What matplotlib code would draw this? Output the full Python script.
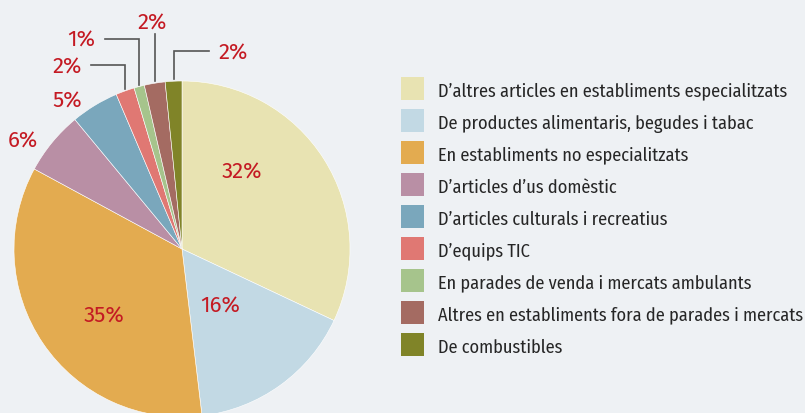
#! /usr/bin/env python3
# -*- coding: utf-8 -*-
"""Pie chart: distribucio del comerc al detall per tipus d'establiment."""
import numpy as np
import matplotlib
matplotlib.use("Agg")
import matplotlib.pyplot as plt
from matplotlib.patches import Rectangle

# Data
categories = [
    "D\u2019altres articles en establiments especialitzats",
    "De productes alimentaris, begudes i tabac",
    "En establiments no especialitzats",
    "D\u2019articles d\u2019us dom\u00e8stic",
    "D\u2019articles culturals i recreatius",
    "D\u2019equips TIC",
    "En parades de venda i mercats ambulants",
    "Altres en establiments fora de parades i mercats",
    "De combustibles",
]
shares = [32.0, 16.1, 34.8, 6.1, 4.6, 1.8, 1.0, 2.0, 1.6]
colors = ["#E8E3B2", "#C2D9E4", "#E3AB50", "#B98FA5", "#7AA7BC",
          "#E07873", "#A6C48C", "#A46B62", "#808428"]

BG = "#EEF1F4"
RED = "#C41A23"
LINE = "#555555"
W, H = 805, 414
FONT = ["Fira Sans Condensed", "DejaVu Sans"]
PCT_FONT = ["Fira Sans", "DejaVu Sans"]
PCT_SIZE = 16

plt.rcParams["font.family"] = FONT

fig = plt.figure(figsize=(W / 100, H / 100), dpi=100, facecolor=BG)
ax = fig.add_axes([0, 0, 1, 1])
ax.set_facecolor(BG)

cx, cy, r = 182, H - 250, 168
wedges, _ = ax.pie(shares, colors=colors, startangle=90, counterclock=False,
                   center=(cx, cy), radius=r, frame=True,
                   wedgeprops=dict(linewidth=0.4, edgecolor="white"))
ax.set_xlim(0, W)
ax.set_ylim(0, H)
ax.set_aspect("equal")
ax.axis("off")

labels = [f"{round(v)}%" for v in shares]

# label positions (pixels from top-left) for the labels on / next to slices
inner_pos = {0: (242, 172), 1: (220, 306), 2: (104, 316),
             3: (23, 141), 4: (67, 101)}
for i, (px, py) in inner_pos.items():
    ax.text(px, H - py, labels[i], color=RED, fontsize=PCT_SIZE,
            family=PCT_FONT, ha="center", va="center")

# small slices with leader lines: (label x, label y, line y) in pixels from top
leader = {5: (67, 67, 66, "h"), 6: (81, 40, 40, "h"),
          7: (152, 23, 35, "v"), 8: (233, 53, 52, "h")}
for i, (lx, ly, ly_line, kind) in leader.items():
    w = wedges[i]
    mid = np.deg2rad((w.theta1 + w.theta2) / 2)
    ex, ey = cx + r * np.cos(mid), cy + r * np.sin(mid)
    if kind == "h":
        side = 1 if lx < ex else -1
        x0 = lx + side * 24
        ax.plot([x0, ex, ex], [H - ly_line, H - ly_line, ey + 2],
                color=LINE, lw=1.2, solid_joinstyle="miter")
    else:
        ax.plot([ex, ex], [H - ly_line, ey + 2], color=LINE, lw=1.2)
    ax.text(lx, H - ly, labels[i], color=RED, fontsize=PCT_SIZE,
            family=PCT_FONT, ha="center", va="center")

# legend: colour squares and labels
box, row0, step = 23, 89.5, 32
for i, (name, col) in enumerate(zip(categories, colors)):
    yc = H - (row0 + i * step)
    ax.add_patch(Rectangle((401, yc - box / 2), box, box, facecolor=col,
                           edgecolor="none"))
    ax.text(438, yc, name, fontsize=13.2, color="#262626",
            ha="left", va="center_baseline")

fig.savefig("out.png", dpi=100, facecolor=BG)
